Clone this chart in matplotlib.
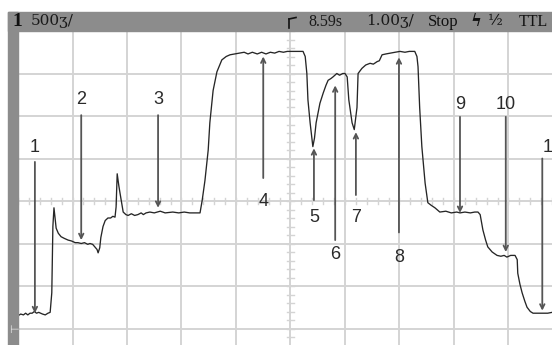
import matplotlib.pyplot as plt
from matplotlib.lines import Line2D

# scope settings
volts_per_div = 0.5
secs_per_div = 1.0

# captured trace (time in s, voltage in V relative to screen centre)
t = [0.00, 0.05, 0.10, 0.14, 0.18, 0.22, 0.26, 0.30, 0.34, 0.38, 0.45, 0.50, 0.55, 0.59,
     0.62, 0.64, 0.66, 0.70, 0.74, 0.79, 0.85, 0.92, 0.98, 1.05, 1.10, 1.16, 1.22, 1.28,
     1.32, 1.37, 1.41, 1.45, 1.47, 1.50, 1.52, 1.56, 1.60, 1.65, 1.70, 1.74, 1.78, 1.80,
     1.82, 1.85, 1.87, 1.93, 1.98, 2.02, 2.08, 2.14, 2.20, 2.26, 2.30, 2.35, 2.42, 2.50,
     2.61, 2.70, 2.84, 2.95, 3.05, 3.15, 3.25, 3.34, 3.38, 3.43, 3.49, 3.52, 3.58, 3.65,
     3.74, 3.82, 3.89, 3.98, 4.07, 4.15, 4.22, 4.30, 4.39, 4.47, 4.55, 4.63, 4.71, 4.79,
     4.87, 4.94, 5.05, 5.15, 5.23, 5.27, 5.30, 5.32, 5.36, 5.41, 5.44, 5.47, 5.54, 5.60,
     5.65, 5.69, 5.74, 5.78, 5.85, 5.90, 5.96, 6.00, 6.04, 6.07, 6.13, 6.17, 6.22, 6.24,
     6.31, 6.38, 6.46, 6.52, 6.59, 6.63, 6.68, 6.75, 6.83, 6.92, 7.01, 7.10, 7.18, 7.28,
     7.32, 7.34, 7.37, 7.41, 7.47, 7.52, 7.58, 7.65, 7.74, 7.85, 7.95, 8.05, 8.11, 8.20,
     8.30, 8.38, 8.44, 8.48, 8.53, 8.58, 8.62, 8.70, 8.79, 8.86, 8.92, 8.97, 9.04, 9.12,
     9.16, 9.17, 9.21, 9.25, 9.30, 9.34, 9.40, 9.45, 9.52, 9.63, 9.72, 9.80]
v = [-1.35, -1.33, -1.34, -1.32, -1.34, -1.32, -1.32, -1.30, -1.32, -1.31, -1.33, -1.34, -1.32, -1.31,
     -1.08, -0.30, -0.08, -0.32, -0.38, -0.42, -0.44, -0.46, -0.47, -0.49, -0.49, -0.50, -0.49, -0.51,
     -0.50, -0.51, -0.54, -0.57, -0.61, -0.55, -0.43, -0.30, -0.23, -0.20, -0.20, -0.18, -0.19, -0.07,
     0.32, 0.18, 0.10, -0.13, -0.16, -0.17, -0.15, -0.17, -0.16, -0.14, -0.16, -0.14, -0.13, -0.14,
     -0.12, -0.14, -0.13, -0.14, -0.13, -0.14, -0.14, -0.14, 0.01, 0.24, 0.60, 0.92, 1.30, 1.52,
     1.66, 1.70, 1.72, 1.73, 1.74, 1.75, 1.73, 1.75, 1.73, 1.75, 1.73, 1.75, 1.74, 1.76,
     1.75, 1.76, 1.76, 1.76, 1.76, 1.70, 1.50, 1.19, 0.92, 0.64, 0.74, 0.92, 1.15, 1.27,
     1.36, 1.42, 1.44, 1.46, 1.50, 1.48, 1.50, 1.50, 1.46, 1.19, 0.92, 0.84, 1.10, 1.50,
     1.56, 1.60, 1.62, 1.61, 1.64, 1.65, 1.72, 1.73, 1.74, 1.75, 1.76, 1.75, 1.76, 1.76,
     1.70, 1.58, 1.10, 0.64, 0.21, -0.02, -0.05, -0.08, -0.13, -0.12, -0.14, -0.13, -0.14, -0.13,
     -0.14, -0.13, -0.13, -0.16, -0.34, -0.46, -0.54, -0.60, -0.64, -0.65, -0.64, -0.66, -0.64, -0.64,
     -0.69, -0.85, -0.98, -1.08, -1.18, -1.25, -1.30, -1.32, -1.32, -1.32, -1.32, -1.31]

# numbered markers: label, time, arrow tail, arrow tip, label height
marker_labels = ["1", "2", "3", "4", "5", "6", "7", "8", "9", "10", "11"]
marker_t = [0.31, 1.16, 2.57, 4.50, 5.43, 5.82, 6.20, 6.99, 8.11, 8.95, 9.62]
marker_tail = [0.46, 1.01, 1.01, 0.27, 0.01, -0.46, 0.07, -0.37, 0.99, 0.99, 0.50]
marker_tip = [-1.32, -0.46, -0.08, 1.70, 0.62, 1.36, 0.81, 1.69, -0.14, -0.60, -1.29]
marker_text_v = [0.63, 1.20, 1.20, 0.00, -0.19, -0.63, -0.19, -0.66, 1.13, 1.13, 0.63]

W, H = 552, 345
fig = plt.figure(figsize=(W / 100, H / 100), dpi=100)
fig.patch.set_facecolor("white")


def fx(px):
    return px / W


def fy(py):
    return 1 - py / H


# grid area: left edge at px 18, top at px 31, 54.5 px / 42.5 px per division
ax = fig.add_axes([fx(18), 0, fx(W - 18), (H - 31) / H])
ax.set_xlim(0, (W - 18) / 54.5 * secs_per_div)
ax.set_ylim((201 - H) / 42.5 * volts_per_div, 4 * volts_per_div)
ax.set_axis_off()

grid_col = "#d4d4d4"
for k in range(1, 10):
    ax.axvline(k * secs_per_div, color=grid_col, lw=1.4, zorder=1)
for k in range(-3, 4):
    ax.axhline(k * volts_per_div, color=grid_col, lw=1.4, zorder=1)
# minor ticks on the centre cross
for k in range(0, 50):
    x = k * secs_per_div / 5
    ax.plot([x, x], [-0.04, 0.04], color=grid_col, lw=1.0, zorder=1)
for k in range(-20, 21):
    y = k * volts_per_div / 5
    ax.plot([4.94, 5.06], [y, y], color=grid_col, lw=1.0, zorder=1)

ax.plot(t, v, color="#262626", lw=0.95, zorder=3)

for lab, mt, tail, tip, tv in zip(marker_labels, marker_t, marker_tail, marker_tip, marker_text_v):
    ax.annotate("", xy=(mt, tip), xytext=(mt, tail),
                arrowprops=dict(arrowstyle="->", color="#555555", lw=1.3,
                                shrinkA=0, shrinkB=0, mutation_scale=8),
                zorder=4)
    if lab == "11":
        ax.text(mt + 0.0, tv, lab, ha="left", va="center", fontsize=13,
                family="Liberation Sans", color="#2a2a2a")
    else:
        ax.text(mt, tv, lab, ha="center", va="center", fontsize=13,
                family="Liberation Sans", color="#2a2a2a")

# header bar and left bar
fig.patches.append(plt.Rectangle((fx(8), fy(31)), fx(W - 8), (31 - 12) / H,
                                 transform=fig.transFigure, color="#8c8c8c", zorder=5))
fig.patches.append(plt.Rectangle((fx(8), 0), fx(10), fy(12),
                                 transform=fig.transFigure, color="#8c8c8c", zorder=5))

hdr_y = fy(21.5)
fig.text(fx(12), hdr_y, "1", fontsize=14, fontweight="bold", family="Liberation Serif",
         va="center", color="#111111", zorder=6)
fig.text(fx(31), hdr_y, "500ʒ/", fontsize=11, family="DejaVu Serif", va="center",
         color="#1a1a1a", zorder=6)
fig.text(fx(308), hdr_y, "8.59s", fontsize=11.5, family="Liberation Serif", va="center",
         color="#1a1a1a", zorder=6)
fig.text(fx(366), hdr_y, "1.00ʒ/", fontsize=11, family="DejaVu Serif", va="center",
         color="#1a1a1a", zorder=6)
fig.text(fx(428), hdr_y, "Stop", fontsize=12, family="Liberation Serif", va="center",
         color="#111111", zorder=6)
fig.text(fx(470), hdr_y, "ϟ", fontsize=12, family="DejaVu Serif", fontweight="bold",
         va="center", color="#111111", zorder=6)
fig.text(fx(488), hdr_y, "½", fontsize=11, family="DejaVu Serif", va="center",
         color="#111111", zorder=6)
fig.text(fx(519), hdr_y, "TTL", fontsize=11.5, family="Liberation Serif", va="center",
         color="#111111", zorder=6)

# trigger position marker
for xs, ys in [([289, 289], [28, 19]), ([289, 296], [19, 17.5])]:
    fig.lines.append(Line2D([fx(x) for x in xs], [fy(y) for y in ys],
                            transform=fig.transFigure, color="#111111", lw=1.2, zorder=7))
# ground marker on left bar
fig.text(fx(9), fy(330), "⊢", fontsize=8, family="DejaVu Sans", va="center",
         color="#e8e8e8", zorder=6)

fig.savefig("out.png", dpi=100)
